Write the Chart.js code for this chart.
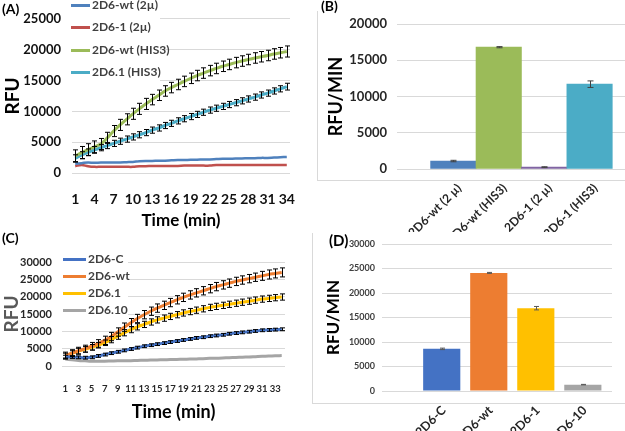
<!DOCTYPE html>
<html lang="en">
<head>
<meta charset="UTF-8">
<title>RFU kinetics and rates</title>
<script src="https://cdn.jsdelivr.net/npm/chart.js"></script>
<style>
  body { margin: 0; background: #fff; font-family: Lato, 'Liberation Sans', sans-serif; }
  #fig { position: relative; width: 625px; height: 431px; overflow: hidden; }
  #fig canvas, .frame, .tag, .legend { position: absolute; }
  .frame { border-left: 1px solid #d9d9d9; border-bottom: 1px solid #d9d9d9; }
  .tag { font-weight: bold; font-size: 14px; color: #000; line-height: 14px; }
  .legend { background: #fff; font-weight: bold; color: #404040; }
  .legend .item { position: absolute; left: 0; white-space: nowrap; height: 14px; line-height: 14px; }
  .legend .swatch { position: absolute; top: 6px; height: 3px; }
  .legend .label { position: absolute; top: 0; }
</style>
</head>
<body>
<div id="fig">
  <div class="frame" style="left:317px; top:11px; width:320px; height:169px;"></div>
  <div class="frame" style="left:312px; top:233px; width:320px; height:170px;"></div>

  <canvas id="chartA" width="310" height="232" style="left:0; top:0;"></canvas>
  <canvas id="chartB" width="315" height="232" style="left:310px; top:0;"></canvas>
  <canvas id="chartC" width="310" height="199" style="left:0; top:232px;"></canvas>
  <canvas id="chartD" width="315" height="206" style="left:310px; top:225px;"></canvas>

  <div class="legend" id="legendA" style="left:65px; top:0; width:95px; height:86px; font-size:12px;"></div>
  <div class="legend" id="legendC" style="left:60px; top:250px; width:68px; height:68px; font-size:12px;"></div>

  <div class="tag" style="left:2px; top:2px;">(A)</div>
  <div class="tag" style="left:321px; top:-1px;">(B)</div>
  <div class="tag" style="left:2px; top:231px;">(C)</div>
  <div class="tag" style="left:329px; top:233px; font-size:15px;">(D)</div>
</div>

<script>
// ---- data ----
const timeA = ['1','2','3','4','5','6','7','8','9','10','11','12','13','14','15','16','17',
               '18','19','20','21','22','23','24','25','26','27','28','29','30','31','32','33','34'];
const timeC = timeA;

// (A) RFU over time
const namesA = ['2D6-wt (2µ)', '2D6-1 (2µ)', '2D6-wt (HIS3)', '2D6.1 (HIS3)'];
const wt2u   = [1500,1600,1700,1650,1700,1700,1700,1700,1750,1800,1900,1950,1950,2000,2000,2050,2100,
                2100,2150,2150,2200,2200,2250,2300,2300,2350,2350,2400,2400,2450,2450,2500,2550,2600];
const mut2u  = [1100,1300,1100,1000,1000,1000,1000,1000,1000,1000,1100,1100,1150,1150,1150,1150,1150,
                1200,1200,1200,1200,1200,1300,1300,1300,1300,1300,1300,1300,1300,1300,1300,1300,1300];
const wtHis  = [2750,3300,3800,4250,4700,5700,6800,7800,8700,9600,10400,11200,11900,12600,13300,13850,14350,
                14850,15350,15800,16200,16600,16950,17300,17600,17900,18150,18400,18650,18850,19050,19300,19500,19700];
const mutHis = [2400,2900,3350,3750,4100,4450,4800,5150,5500,5850,6200,6550,6950,7300,7700,8050,8450,
                8800,9150,9500,9850,10200,10500,10800,11100,11400,11700,12000,12300,12650,12950,13300,13650,14000];
const wtHisErr  = [1000,1000,950,950,900,900,900,900,900,900,900,900,850,850,850,850,850,
                   850,850,850,850,850,850,850,850,850,850,850,850,850,850,850,850,900];
const mutHisErr = [550,550,550,550,500,500,500,500,500,500,500,500,500,500,500,500,500,
                   500,500,500,500,500,500,500,500,500,500,500,500,500,500,500,500,550];

// (B) rates
const namesB = ['2D6-wt (2 µ)', '2D6-wt (HIS3)', '2D6-1 (2 µ)', '2D6-1 (HIS3)'];
const rateB  = [1100, 16800, 250, 11700];
const errB   = [100, 80, 60, 450];

// (C) RFU over time
const namesC = ['2D6-C', '2D6-wt', '2D6.1', '2D6.10'];
const rfuC   = [2700,2600,2500,2400,2500,2900,3300,3700,4100,4500,4900,5300,5700,6000,6300,6600,6900,
                7200,7500,7800,8100,8300,8600,8800,9000,9300,9500,9700,9900,10100,10300,10400,10500,10600];
const rfuWt  = [3000,3700,4400,5000,5700,6500,7400,8500,9800,11200,12500,13700,14800,15800,16700,17500,18300,
                19100,19800,20500,21100,21700,22300,22900,23400,23900,24400,24800,25200,25600,26000,26400,26700,27000];
const rfu1   = [2900,3600,4300,4800,5400,6000,6700,7600,8600,9600,10500,11300,12000,12700,13300,13800,14300,
                14800,15300,15700,16100,16500,16900,17200,17500,17800,18100,18400,18700,19000,19300,19500,19700,19900];
const rfu10  = [2000,1800,1600,1500,1400,1400,1400,1450,1500,1500,1550,1600,1650,1700,1750,1800,1850,
                1900,1950,2000,2050,2100,2200,2250,2300,2400,2450,2550,2600,2700,2800,2850,2950,3000];
const errCC  = [400,400,400,400,400,400,400,400,400,400,400,400,400,400,400,400,400,
                400,400,400,400,400,400,400,400,400,400,400,400,400,400,400,400,400];
const errCWt = [1000,1000,1000,1000,1100,1100,1200,1200,1200,1200,1200,1200,1200,1200,1200,1200,1200,
                1200,1200,1200,1200,1200,1200,1200,1200,1200,1200,1200,1200,1200,1300,1300,1300,1300];
const errC1  = [800,800,800,800,800,800,800,900,900,900,900,900,900,900,900,900,900,
                900,900,900,900,900,900,900,900,900,900,900,900,900,900,900,900,900];

// (D) rates
const namesD = ['2D6-C', '2D6-wt', '2D6-1', '2D6-10'];
const rateD  = [8600, 24100, 16900, 1300];
const errD   = [150, 100, 350, 50];

// ---- helpers ----
Chart.defaults.font.family = "Lato, 'Liberation Sans', sans-serif";
Chart.defaults.font.weight = 'bold';
Chart.defaults.color = '#262626';

const plain = v => String(v);   // no thousands separators

const errorBars = {
  id: 'errorBars',
  afterDatasetsDraw(chart) {
    const ctx = chart.ctx, y = chart.scales.y;
    chart.data.datasets.forEach((ds, di) => {
      if (!ds.errors) return;
      const meta = chart.getDatasetMeta(di);
      ctx.save();
      ctx.strokeStyle = ds.errorColor || '#000';
      ctx.lineWidth = 1;
      meta.data.forEach((el, i) => {
        const v = meta.controller.getParsed(i).y, e = ds.errors[i];
        if (v == null || !e) return;
        const x = Math.round(el.x) + 0.5;
        const t = y.getPixelForValue(v + e), b = y.getPixelForValue(v - e);
        const w = ds.capWidth || 2.5;
        ctx.beginPath();
        ctx.moveTo(x, t); ctx.lineTo(x, b);
        ctx.moveTo(x - w, t); ctx.lineTo(x + w, t);
        ctx.moveTo(x - w, b); ctx.lineTo(x + w, b);
        ctx.stroke();
      });
      ctx.restore();
    });
  }
};

function lineSet(label, data, color, errors, width) {
  return { label, data, errors, borderColor: color, backgroundColor: color,
           borderWidth: width || 3, pointRadius: 0, tension: 0.4, fill: false };
}

function htmlLegend(id, chart, rows, lineLeft, lineW, textLeft) {
  const box = document.getElementById(id);
  const r = box.getBoundingClientRect();
  chart.data.datasets.forEach((ds, i) => {
    const item = document.createElement('div');
    item.className = 'item';
    item.style.top = (rows[i] - r.top - 7) + 'px';
    item.innerHTML = '<span class="swatch" style="left:' + (lineLeft - r.left) + 'px;width:' + lineW +
      'px;background:' + ds.borderColor + '"></span><span class="label" style="left:' + (textLeft - r.left) + 'px">' +
      ds.label + '</span>';
    box.appendChild(item);
  });
}

const base = { responsive: false, animation: false, plugins: { legend: { display: false }, tooltip: { enabled: false } } };

// ---- (A) ----
const chartA = new Chart(document.getElementById('chartA'), {
  type: 'line',
  data: {
    labels: timeA,
    datasets: [
      lineSet(namesA[0], wt2u, '#4f81bd', null, 2.5),
      lineSet(namesA[1], mut2u, '#c0504d', null, 2.5),
      lineSet(namesA[2], wtHis, '#9bbb59', wtHisErr),
      lineSet(namesA[3], mutHis, '#4bacc6', mutHisErr)
    ]
  },
  options: {
    ...base,
    layout: { padding: { left: 1, top: 16, right: 20, bottom: 0 } },
    scales: {
      x: {
        offset: true, grid: { display: false }, border: { display: false },
        ticks: { autoSkip: false, maxRotation: 0, padding: 10, color: '#111', font: { size: 14 },
                 callback: function (v, i) { return i % 3 === 0 ? this.getLabelForValue(v) : ''; } },
        title: { display: true, text: 'Time (min)', color: '#000', font: { size: 17 }, padding: { top: 0, bottom: 1 } },
        afterFit: s => { s.height = 59; }
      },
      y: {
        min: 0, max: 25000,
        ticks: { stepSize: 5000, padding: 11, color: '#111', font: { size: 13 }, callback: plain },
        grid: { color: '#d9d9d9', drawTicks: false }, border: { display: false },
        title: { display: true, text: 'RFU', color: '#000', font: { size: 19 }, padding: 0 },
        afterFit: s => { s.width = 71; }
      }
    }
  },
  plugins: [errorBars]
});
htmlLegend('legendA', chartA, [4.5, 27, 49.5, 72], 71, 19, 92);

// ---- (B) ----
new Chart(document.getElementById('chartB'), {
  type: 'bar',
  data: {
    datasets: [{
      data: rateB.map((v, i) => ({ x: i + 1, y: v })),
      backgroundColor: ['#4f81bd', '#9bbb59', '#8064a2', '#4bacc6'],
      errors: errB, errorColor: '#404040', capWidth: 3,
      categoryPercentage: 1, barPercentage: 1
    }]
  },
  options: {
    ...base,
    layout: { padding: { left: 15, top: 24, right: 0, bottom: 0 } },
    scales: {
      x: {
        type: 'linear', min: -0.24, max: 4.78, offset: false,
        grid: { display: false }, border: { display: false },
        ticks: { stepSize: 1, includeBounds: false, autoSkip: false, minRotation: 45, maxRotation: 45,
                 labelOffset: 6, padding: 4, color: '#262626', font: { size: 12 },
                 callback: v => namesB[v - 1] || '' },
        afterFit: s => { s.height = 63; }
      },
      y: {
        min: 0, max: 20000,
        ticks: { stepSize: 5000, padding: 10, color: '#262626', font: { size: 13 }, callback: plain },
        grid: { color: '#d9d9d9', drawTicks: false }, border: { display: false },
        title: { display: true, text: 'RFU/MIN', color: '#000', font: { size: 18 }, padding: 0 },
        afterFit: s => { s.width = 72; }
      }
    }
  },
  plugins: [errorBars]
});

// ---- (C) ----
const chartC = new Chart(document.getElementById('chartC'), {
  type: 'line',
  data: {
    labels: timeC,
    datasets: [
      lineSet(namesC[0], rfuC, '#4472c4', errCC),
      lineSet(namesC[1], rfuWt, '#ed7d31', errCWt),
      lineSet(namesC[2], rfu1, '#ffc000', errC1),
      lineSet(namesC[3], rfu10, '#a5a5a5', null)
    ]
  },
  options: {
    ...base,
    layout: { padding: { left: 0, top: 30, right: 25, bottom: 0 } },
    scales: {
      x: {
        offset: true, grid: { display: false }, border: { display: false },
        ticks: { autoSkip: false, maxRotation: 0, padding: 9, color: '#262626', font: { size: 9.5 },
                 callback: function (v, i) { return i % 2 === 0 ? this.getLabelForValue(v) : ''; } },
        title: { display: true, text: 'Time (min)', color: '#000', font: { size: 18 }, padding: { top: 0, bottom: 8 } },
        afterFit: s => { s.height = 65; }
      },
      y: {
        min: 0, max: 30000,
        ticks: { stepSize: 5000, padding: 10, color: '#262626', font: { size: 11 }, callback: plain },
        grid: { color: '#d9d9d9', drawTicks: false }, border: { display: false },
        title: { display: true, text: 'RFU', color: '#595959', font: { size: 19 }, padding: 0 },
        afterFit: s => { s.width = 62; }
      }
    }
  },
  plugins: [errorBars]
});
htmlLegend('legendC', chartC, [258.5, 275.5, 292.5, 309.5], 63, 23, 88);

// ---- (D) ----
new Chart(document.getElementById('chartD'), {
  type: 'bar',
  data: {
    datasets: [{
      data: rateD.map((v, i) => ({ x: i + 1, y: v })),
      backgroundColor: ['#4472c4', '#ed7d31', '#ffc000', '#a5a5a5'],
      errors: errD, errorColor: '#595959', capWidth: 2.5,
      categoryPercentage: 1, barPercentage: 0.79
    }]
  },
  options: {
    ...base,
    layout: { padding: { left: 13, top: 19, right: 13, bottom: 0 } },
    scales: {
      x: {
        type: 'linear', min: -0.27, max: 4.62, offset: false,
        grid: { display: false }, border: { display: false },
        ticks: { stepSize: 1, includeBounds: false, autoSkip: false, minRotation: 45, maxRotation: 45,
                 labelOffset: 2, padding: 4, color: '#262626', font: { size: 12.5 },
                 callback: v => namesD[v - 1] || '' },
        afterFit: s => { s.height = 40; }
      },
      y: {
        min: 0, max: 30000,
        ticks: { stepSize: 5000, padding: 7, color: '#404040', font: { size: 9 }, callback: plain },
        grid: { color: '#d9d9d9', drawTicks: false }, border: { display: false },
        title: { display: true, text: 'RFU/MIN', color: '#000', font: { size: 17 }, padding: 0 },
        afterFit: s => { s.width = 59; }
      }
    }
  },
  plugins: [errorBars]
});
</script>
</body>
</html>
